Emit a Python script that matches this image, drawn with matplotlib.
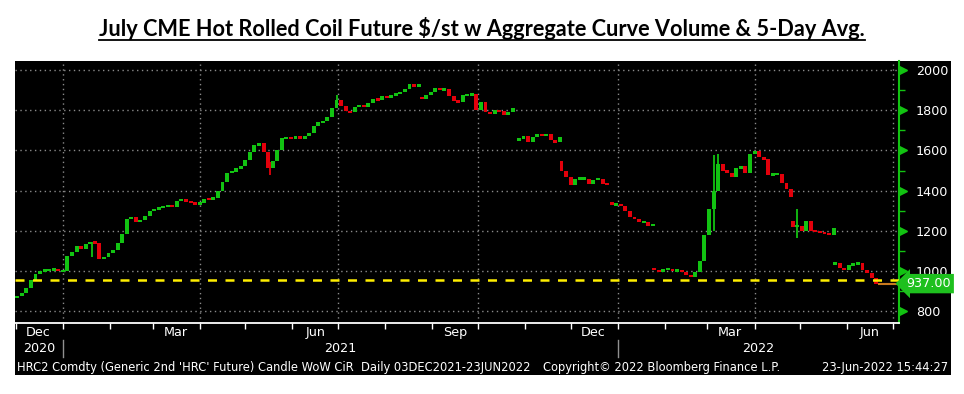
import numpy as np
import pandas as pd
import matplotlib
matplotlib.use('Agg')
import matplotlib.pyplot as plt
import matplotlib.dates as mdates
from matplotlib.transforms import blended_transform_factory
from matplotlib.patches import Rectangle
from matplotlib.lines import Line2D

# ---- data (3-day candles, gaps = contract rolls)
seg_starts = ['2020-12-02', '2021-08-25', '2021-10-28', '2021-11-25',
              '2021-12-28', '2022-01-25', '2022-04-26', '2022-05-24']
seg_opens = [865, 1865, 1645, 1545, 1340, 1015, 1250, 1035]
seg_closes = [
    [875, 890, 915, 955, 985, 1000, 1005, 1005, 1010, 1000,
     1000, 1075, 1095, 1125, 1110, 1135, 1145, 1140, 1060, 1070,
     1090, 1105, 1140, 1185, 1260, 1270, 1245, 1255, 1275, 1300,
     1305, 1315, 1320, 1325, 1320, 1350, 1355, 1345, 1340, 1330,
     1340, 1360, 1355, 1365, 1400, 1445, 1490, 1495, 1510, 1520,
     1550, 1590, 1625, 1635, 1590, 1510, 1545, 1600, 1660, 1665,
     1660, 1670, 1655, 1670, 1685, 1720, 1740, 1745, 1765, 1810,
     1850, 1820, 1795, 1790, 1815, 1825, 1815, 1835, 1855, 1850,
     1870, 1860, 1875, 1880, 1890, 1905, 1930, 1915, 1930],
    [1855, 1875, 1890, 1910, 1900, 1905, 1870, 1845, 1840, 1875,
     1875, 1880, 1800, 1840, 1790, 1780, 1800, 1795, 1775, 1790, 1810],
    [1660, 1670, 1640, 1665, 1680, 1675, 1680, 1650, 1640, 1665],
    [1500, 1470, 1430, 1460, 1460, 1460, 1435, 1455, 1460, 1435, 1430],
    [1330, 1330, 1325, 1300, 1270, 1260, 1245, 1245, 1225, 1230],
    [1005, 995, 1010, 1010, 1000, 1005, 995, 980, 970, 995,
     1050, 1180, 1310, 1400, 1530, 1500, 1490, 1470, 1510, 1520,
     1490, 1580, 1595, 1565, 1555, 1480, 1480, 1485, 1440, 1410, 1370],
    [1220, 1225, 1200, 1250, 1200, 1195, 1190, 1185, 1180, 1215],
    [1040, 1015, 1005, 1030, 1035, 1040, 1005, 990, 965, 937],
]
wick_dates = ['2021-01-20', '2021-05-17', '2021-06-30', '2022-03-05', '2022-03-08', '2022-04-29']
wick_lows = [1070, 1480, 1810, 1200, 1440, 1165]
wick_highs = [1145, 1540, 1875, 1575, 1580, 1310]

last_price = 937.00
avg_level = 955
price_ticks = [800, 1000, 1200, 1400, 1600, 1800, 2000]
month_labels = ['Dec', 'Mar', 'Jun', 'Sep', 'Dec', 'Mar', 'Jun']
month_label_dates = ['2020-12-16', '2021-03-16', '2021-06-16', '2021-09-16',
                     '2021-12-16', '2022-03-16', '2022-06-16']
years = ['2020', '2021', '2022']

title = 'July CME Hot Rolled Coil Future $/st w Aggregate Curve Volume & 5-Day Avg.'
footer_left = "HRC2 Comdty (Generic 2nd 'HRC' Future) Candle WoW CiR  Daily 03DEC2021-23JUN2022"
footer_mid = 'Copyright\u00a9 2022 Bloomberg Finance L.P.'
footer_right = '23-Jun-2022 15:44:27'

GREEN = '#12c312'
RED = '#e3000b'
W, H = 964, 394
FS = 9.2

fig = plt.figure(figsize=(W / 100, H / 100), dpi=100)
fig.patch.set_facecolor('white')
fig.patches.append(Rectangle((15 / W, 1 - 375 / H), (951 - 15) / W, (375 - 61) / H,
                             transform=fig.transFigure, facecolor='black', zorder=-10))
ax = fig.add_axes([15 / W, 1 - 323 / H, (899 - 15) / W, (323 - 61) / H])
ax.set_facecolor('black')

# candles
dates, opens, closes = [], [], []
for start, op, cl in zip(seg_starts, seg_opens, seg_closes):
    d = pd.date_range(start, periods=len(cl), freq='3D')
    o = [op] + cl[:-1]
    dates += list(d)
    opens += o
    closes += cl
dates = pd.to_datetime(dates)
opens = np.array(opens, float)
closes = np.array(closes, float)
up = closes >= opens
cols = np.where(up, GREEN, RED)
body = np.maximum(np.abs(closes - opens), 12)
bottom = (opens + closes) / 2 - body / 2
ax.bar(dates, body, bottom=bottom, width=2.6, color=cols, linewidth=0, zorder=3)
wd = pd.to_datetime(wick_dates)
wc = [cols[np.argmin(np.abs((dates - d).days))] for d in wd]
ax.vlines(wd, wick_lows, wick_highs, colors=wc, linewidth=1.3, zorder=3)

x0, x1 = pd.Timestamp('2020-11-30 12:00'), pd.Timestamp('2022-07-05')
ax.set_xlim(x0, x1)
ax.set_ylim(741, 2045)

ax.axhline(avg_level, color='#ffee00', lw=1.8, ls=(0, (3.6, 3.4)), zorder=4)
ax.hlines(last_price, pd.Timestamp('2022-06-21'), x1, color='#c8781e', lw=1.5, zorder=4)

# grid / axes
ax.xaxis.set_major_locator(mdates.MonthLocator(bymonth=[1, 4, 7, 10]))
ax.xaxis.set_minor_locator(mdates.MonthLocator())
ax.xaxis.set_major_formatter(plt.NullFormatter())
ax.tick_params(axis='x', which='both', colors='white', direction='out', length=4, width=1)
ax.set_yticks(price_ticks)
ax.set_yticks(np.arange(900, 2001, 200), minor=True)
ax.yaxis.set_ticks_position('right')
ax.tick_params(axis='y', which='major', length=0, pad=12, labelcolor='white', labelsize=FS)
ax.tick_params(axis='y', which='minor', length=4, color=GREEN, width=1)
ax.grid(True, which='major', color='#8a8a8a', ls=(0, (1, 2.5)), lw=1)
for s in ['top', 'left']:
    ax.spines[s].set_visible(False)
ax.spines['right'].set_color(GREEN)
ax.spines['right'].set_linewidth(1.5)
ax.spines['bottom'].set_color('white')
ax.spines['bottom'].set_linewidth(1.3)

ytr = blended_transform_factory(ax.transAxes, ax.transData)
ax.plot([1.005] * len(price_ticks), price_ticks, ls='none', marker='>', ms=5.5,
        color=GREEN, transform=ytr, clip_on=False)
ax.text(1.008, last_price, '937.00', transform=ytr, color='white', fontsize=FS,
        va='center', ha='left', zorder=6,
        bbox=dict(boxstyle='larrow,pad=0.25', fc='#1ec01e', ec='none'))

xtr = blended_transform_factory(ax.transData, ax.transAxes)
for lab, d in zip(month_labels, month_label_dates):
    ax.text(pd.Timestamp(d), -0.013, lab, transform=xtr, color='white', fontsize=FS,
            ha='center', va='top')
for yr in years:
    a = max(pd.Timestamp(yr + '-01-01'), x0)
    b = min(pd.Timestamp(str(int(yr) + 1) + '-01-01'), x1)
    ax.text(a + (b - a) / 2, -0.074, yr, transform=xtr, color='white', fontsize=FS,
            ha='center', va='top')
for yr in years[1:]:
    ax.plot([pd.Timestamp(yr + '-01-01')] * 2, [-0.065, -0.13], transform=xtr,
            color='#909090', lw=1, clip_on=False)

fig.text(17 / W, 1 - 368 / H, footer_left, color='white', fontsize=8.3, va='center', ha='left')
fig.text(662 / W, 1 - 368 / H, footer_mid, color='white', fontsize=8.3, va='center', ha='center')
fig.text(948 / W, 1 - 368 / H, footer_right, color='white', fontsize=8.3, va='center', ha='right')

# title with underline, scaled to the reference width
t = fig.text(482 / W, 1 - 29 / H, title, fontsize=15, fontweight='bold', family='Lato',
             ha='center', va='center', color='black')
r = fig.canvas.get_renderer()
bb = t.get_window_extent(r)
t.set_fontsize(15 * 769 / bb.width)
bb = t.get_window_extent(r)
uy = bb.y0 + 1
fig.add_artist(Line2D([bb.x0 / W, bb.x1 / W], [uy / H, uy / H], transform=fig.transFigure,
                      color='black', lw=1.3))

fig.savefig('out.png', dpi=100, facecolor='white')
